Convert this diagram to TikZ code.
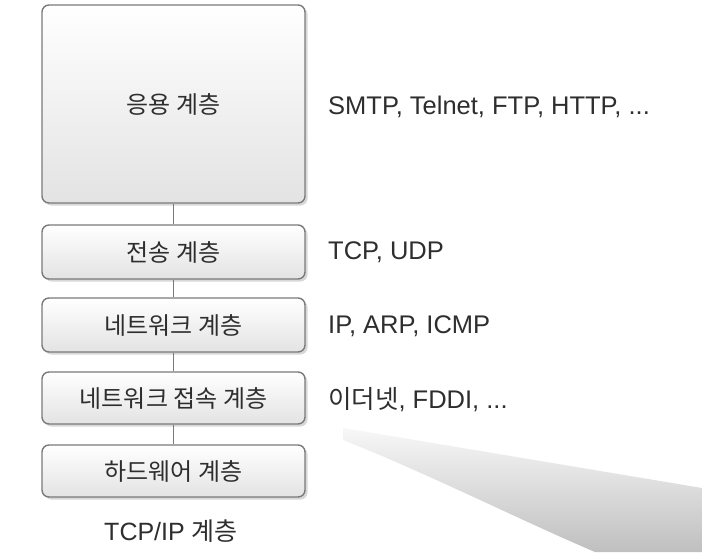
\documentclass[tikz,border=0pt]{standalone}
\usepackage{fontspec}
\setmainfont{Liberation Sans}
\newfontfamily\kr{Noto Sans CJK KR}
\usetikzlibrary{shadows}
\definecolor{txt}{HTML}{2E2E2E}
\definecolor{edge}{HTML}{7A7A7A}
\tikzset{
  layer/.style={rectangle, rounded corners=7pt, draw=edge, line width=1.4pt,
    top color=white, bottom color=black!11, minimum width=263pt,
    text=txt, font=\kr\fontsize{24}{28}\selectfont, inner sep=0pt,
    drop shadow={shadow xshift=2.5pt, shadow yshift=-2.5pt, fill=black!30, opacity=.5}},
  proto/.style={anchor=west, text=txt, font=\fontsize{25.5}{28}\selectfont, inner sep=0pt},
  link/.style={draw=edge, line width=1.4pt}
}
\begin{document}
\begin{tikzpicture}[x=1pt,y=-1pt]
\useasboundingbox (0,0) rectangle (702,552);
\fill[white] (0,0) rectangle (702,552);
% page-curl shadow
\shade[left color=black!3, right color=black!25, shading angle=0]
  (343,428) -- (702,488) -- (702,552) -- (595,552)
  .. controls (520,520) and (420,470) .. (343,440) -- cycle;
\node[layer, minimum height=198pt] (app) at (173.5,104) {응용 계층};
\node[layer, minimum height=54pt] (tr) at (173.5,252) {전송 계층};
\node[layer, minimum height=54pt] (net) at (173.5,325) {네트워크 계층};
\node[layer, minimum height=52pt] (acc) at (173.5,398) {네트워크 접속 계층};
\node[layer, minimum height=52pt] (hw) at (173.5,471) {하드웨어 계층};
\draw[link] (app) -- (tr);
\draw[link] (tr) -- (net);
\draw[link] (net) -- (acc);
\draw[link] (acc) -- (hw);
\node[proto] (p1) at (328,107) {SMTP, Telnet, FTP, HTTP, ...};
\node[proto] (p2) at (328,252) {TCP, UDP};
\node[proto] (p3) at (328,326) {IP, ARP, ICMP};
\node[proto] (p4) at (328,400) {{\kr 이더넷}, FDDI, ...};
\node[text=txt, font=\fontsize{25}{28}\selectfont] (cap) at (171,531) {TCP/IP {\kr 계층}};
\end{tikzpicture}
\end{document}
